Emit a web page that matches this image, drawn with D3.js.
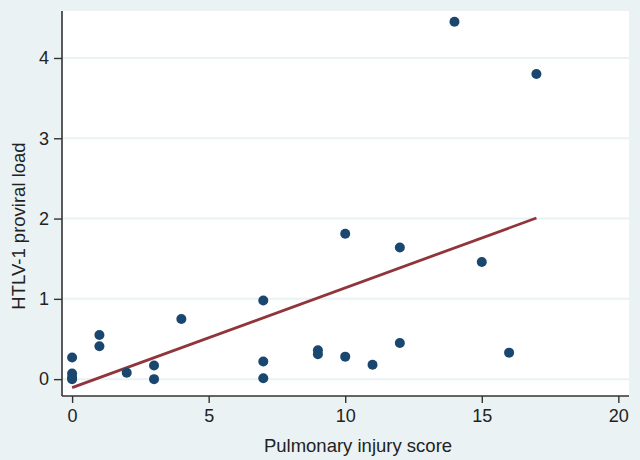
<!DOCTYPE html>
<html>
<head>
<meta charset="utf-8">
<script src="https://cdn.jsdelivr.net/npm/d3@7"></script>
<style>
  html, body { margin: 0; padding: 0; background: #eaf2f3; }
  svg { display: block; font-family: Arial, "Liberation Sans", Helvetica, sans-serif; }
</style>
</head>
<body>
<svg id="chart" width="640" height="460"></svg>
<script>
// Data
const injuryScore = [0, 0, 0, 0, 1, 1, 2, 3, 3, 4, 7, 7, 7, 9, 9, 10, 10, 11, 12, 12, 14, 15, 16, 17];
const proviralLoad = [0.27, 0.07, 0.02, 0.0, 0.55, 0.41, 0.08, 0.17, 0.0, 0.75, 0.98, 0.22, 0.01, 0.36, 0.31, 1.81, 0.28, 0.18, 1.64, 0.45, 4.45, 1.46, 0.33, 3.80];
const xTicks = [0, 5, 10, 15, 20];
const yTicks = [0, 1, 2, 3, 4];
const xTitle = "Pulmonary injury score";
const yTitle = "HTLV-1 proviral load";

const points = injuryScore.map((x, i) => ({ x, y: proviralLoad[i] }));

// Linear fit (OLS)
const mx = d3.mean(injuryScore), my = d3.mean(proviralLoad);
const sxy = d3.sum(points, p => (p.x - mx) * (p.y - my));
const sxx = d3.sum(points, p => (p.x - mx) ** 2);
const slope = sxy / sxx, intercept = my - slope * mx;
const fitX = d3.extent(injuryScore);
const fitLine = fitX.map(x => ({ x, y: intercept + slope * x }));

const svg = d3.select("#chart");
const plot = { left: 62, right: 629, top: 11, bottom: 396 };

const x = d3.scaleLinear().domain([-0.37, 20.39]).range([plot.left, plot.right]);
const y = d3.scaleLinear().domain([-0.21, 4.585]).range([plot.bottom, plot.top]);

// background
svg.append("rect").attr("width", 640).attr("height", 460).attr("fill", "#eaf2f3");
svg.append("rect")
  .attr("x", plot.left).attr("y", plot.top)
  .attr("width", plot.right - plot.left).attr("height", plot.bottom - plot.top)
  .attr("fill", "#ffffff");

// gridlines
svg.append("g").selectAll("line").data(yTicks).join("line")
  .attr("x1", plot.left).attr("x2", plot.right)
  .attr("y1", d => y(d)).attr("y2", d => y(d))
  .attr("stroke", "#eaf2f3").attr("stroke-width", 2);

// axes
const xAxis = svg.append("g")
  .attr("transform", `translate(0,${plot.bottom})`)
  .call(d3.axisBottom(x).tickValues(xTicks).tickFormat(d3.format("d"))
    .tickSize(7).tickPadding(6).tickSizeOuter(0));
const yAxis = svg.append("g")
  .attr("transform", `translate(${plot.left},0)`)
  .call(d3.axisLeft(y).tickValues(yTicks).tickFormat(d3.format("d"))
    .tickSize(8).tickPadding(5).tickSizeOuter(0));

[xAxis, yAxis].forEach(a => {
  a.select(".domain").attr("stroke", "#333").attr("stroke-width", 1.6);
  a.selectAll(".tick line").attr("stroke", "#333").attr("stroke-width", 1.4);
  a.selectAll(".tick text").attr("fill", "#222").style("font-size", "18px")
    .style("font-family", "Arial, 'Liberation Sans', sans-serif");
});
xAxis.select(".domain").attr("d", `M${plot.left},0H${plot.right}`);
yAxis.select(".domain").attr("d", `M0,${plot.bottom}V${plot.top}`);

// fitted line
svg.append("path").datum(fitLine)
  .attr("d", d3.line().x(d => x(d.x)).y(d => y(d.y)))
  .attr("fill", "none").attr("stroke", "#90353b").attr("stroke-width", 2.8);

// points
svg.append("g").selectAll("circle").data(points).join("circle")
  .attr("cx", d => x(d.x)).attr("cy", d => y(d.y)).attr("r", 5)
  .attr("fill", "#1a476f");

// axis titles
svg.append("text")
  .attr("x", 358).attr("y", 452)
  .attr("text-anchor", "middle").attr("fill", "#222")
  .style("font-size", "18.5px").text(xTitle);
svg.append("text")
  .attr("transform", `translate(25,226) rotate(-90)`)
  .attr("text-anchor", "middle").attr("fill", "#222")
  .style("font-size", "18.5px").text(yTitle);
</script>
</body>
</html>
